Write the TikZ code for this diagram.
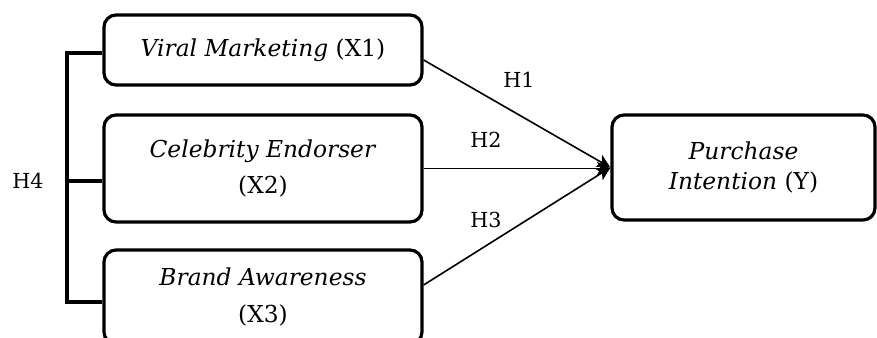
\documentclass[tikz,border=0pt]{standalone}
\usepackage{fontspec}
\setmainfont{DejaVu Serif}
\usetikzlibrary{arrows.meta}
\begin{document}
\begin{tikzpicture}[x=0.75pt,y=-0.75pt,
  box/.style={draw, line width=2.4pt, rounded corners=9pt, align=center, inner sep=0pt},
  lbl/.style={font=\fontsize{15.5}{18}\selectfont, inner sep=0pt},
  link/.style={line width=1.2pt, -{Stealth[length=10pt,width=10pt,inset=2.5pt]}},
  brk/.style={line width=2.4pt}]
\useasboundingbox (0,0) rectangle (877,337);
\clip (0,0) rectangle (877,337);
\node[box, minimum width=238.5pt, minimum height=52.5pt, font=\fontsize{17.5}{27}\selectfont] (b1) at (263,50)
  {\raisebox{2pt}{\textit{Viral Marketing} (X1)}};
\node[box, minimum width=238.5pt, minimum height=80.25pt, font=\fontsize{17.5}{27}\selectfont] (b2) at (263,168.5)
  {\textit{Celebrity Endorser}\\(X2)};
\node[box, minimum width=238.5pt, minimum height=70.5pt, font=\fontsize{17.5}{27.5}\selectfont] (b3) at (263,297)
  {\textit{Brand Awareness}\\(X3)};
\node[box, minimum width=197.25pt, minimum height=78.75pt, font=\fontsize{17.5}{22.5}\selectfont] (by) at (743.5,167.5)
  {\textit{Purchase}\\\textit{Intention} (Y)};
% bracket H4
\coordinate (t1) at (67,53);
\coordinate (t2) at (67,181);
\coordinate (t3) at (67,302);
\draw[brk] ([yshift=-2.25pt]b1.west) -- (t1) -- (t3) -- ([yshift=-3.75pt]b3.west);
\draw[brk] (t2) -- (t2 -| b2.west);
\node[lbl] (h4) at (28,181) {H4};
% arrows
\draw[link] ([yshift=-7.5pt]b1.east) -- (by.west);
\draw[link] (b2.east) -- (b2.east -| by.west);
\draw[link] ([yshift=9pt]b3.east) -- (by.west);
\node[lbl] (h1) at (519,80) {H1};
\node[lbl] (h2) at (486,140) {H2};
\node[lbl] (h3) at (486,220) {H3};
\end{tikzpicture}
\end{document}
